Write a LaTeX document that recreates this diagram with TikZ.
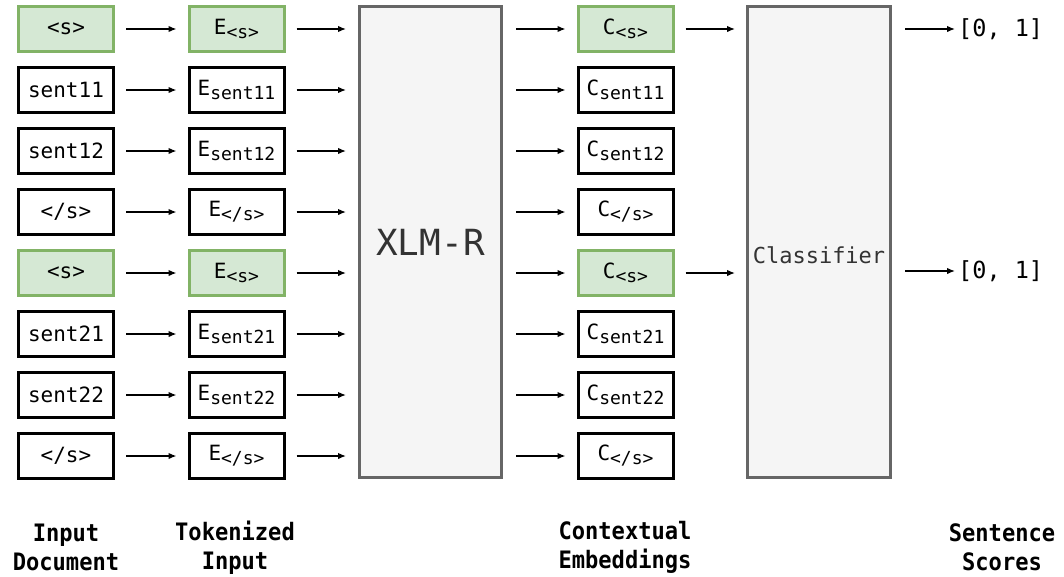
\documentclass[tikz,border=0pt]{standalone}
\usepackage{fontspec}
\setmonofont{DejaVu Sans Mono}
\newfontfamily\capfont{DejaVu Sans Mono Bold}[FakeStretch=0.92]
\usetikzlibrary{arrows.meta}
\definecolor{gfill}{HTML}{D5E8D4}
\definecolor{gline}{HTML}{82B366}
\definecolor{bfill}{HTML}{F5F5F5}
\definecolor{bline}{HTML}{666666}
\definecolor{txtgray}{HTML}{333333}
\newcommand\subtok[1]{\raisebox{-4pt}{\fontsize{18}{18}\selectfont #1}}
\tikzset{
  tok/.style={draw=black, line width=3pt, fill=white, minimum width=95pt, minimum height=45pt, inner sep=0pt, font=\ttfamily\fontsize{21}{21}\selectfont},
  special/.style={tok, draw=gline, fill=gfill},
  bigbox/.style={draw=bline, fill=bfill, line width=3pt, minimum width=142pt, minimum height=471pt, inner sep=0pt, text=txtgray},
  arr/.style={line width=1.4pt, -{Latex[length=8pt,width=6.5pt]}},
  caption/.style={align=center, font=\capfont\fontsize{24}{29}\selectfont},
  score/.style={anchor=west, inner sep=3pt, font=\ttfamily\fontsize{23.5}{23.5}\selectfont}
}
\begin{document}
\begin{tikzpicture}[x=1pt,y=-1pt]
\useasboundingbox (0,0) rectangle (1064,576);
% input tokens
\node[special] (i1) at (66,29) {<s>};
\node[tok] (i2) at (66,90) {sent11};
\node[tok] (i3) at (66,151) {sent12};
\node[tok] (i4) at (66,212) {</s>};
\node[special] (i5) at (66,273) {<s>};
\node[tok] (i6) at (66,334) {sent21};
\node[tok] (i7) at (66,395) {sent22};
\node[tok] (i8) at (66,456) {</s>};
% embeddings
\node[special] (e1) at (236.5,29) {E\subtok{<s>}};
\node[tok] (e2) at (236.5,90) {E\subtok{sent11}};
\node[tok] (e3) at (236.5,151) {E\subtok{sent12}};
\node[tok] (e4) at (236.5,212) {E\subtok{</s>}};
\node[special] (e5) at (236.5,273) {E\subtok{<s>}};
\node[tok] (e6) at (236.5,334) {E\subtok{sent21}};
\node[tok] (e7) at (236.5,395) {E\subtok{sent22}};
\node[tok] (e8) at (236.5,456) {E\subtok{</s>}};
% XLM-R
\node[bigbox, font=\ttfamily\fontsize{36}{36}\selectfont] (xlm) at (430.5,242) {XLM-R};
% contextual
\node[special] (c1) at (625.5,29) {C\subtok{<s>}};
\node[tok] (c2) at (625.5,90) {C\subtok{sent11}};
\node[tok] (c3) at (625.5,151) {C\subtok{sent12}};
\node[tok] (c4) at (625.5,212) {C\subtok{</s>}};
\node[special] (c5) at (625.5,273) {C\subtok{<s>}};
\node[tok] (c6) at (625.5,334) {C\subtok{sent21}};
\node[tok] (c7) at (625.5,395) {C\subtok{sent22}};
\node[tok] (c8) at (625.5,456) {C\subtok{</s>}};
% classifier
\node[bigbox, minimum width=143pt, label={[yshift=-13pt, text=txtgray, font=\ttfamily\fontsize{22}{22}\selectfont]center:Classifier}] (cls) at (819,242) {};
% scores
\node[score] (s1) at (955,29) {[0, 1]};
\node[score] (s2) at (955,271) {[0, 1]};
% arrows
\foreach \k in {1,...,8} {
  \draw[arr, shorten <=11pt, shorten >=11pt] (i\k.east) -- (e\k.west);
  \draw[arr, shorten <=11pt, shorten >=12pt] (e\k.east) -- (e\k.east -| xlm.west);
  \draw[arr, shorten <=13pt, shorten >=11pt] (xlm.east |- c\k.west) -- (c\k.west);
}
\draw[arr, shorten <=11pt, shorten >=11pt] (c1.east) -- (c1.east -| cls.west);
\draw[arr, shorten <=11pt, shorten >=11pt] (c5.east) -- (c5.east -| cls.west);
\draw[arr, shorten <=13pt] (cls.east |- s1.west) -- (s1.west);
\draw[arr, shorten <=13pt] (cls.east |- s2.west) -- (s2.west);
% captions
\node[caption] (l1) at (66,547.5) {Input\\Document};
\node[caption] (l2) at (235,547.5) {Tokenized\\Input};
\node[caption] (l3) at (625,547.5) {Contextual\\Embeddings};
\node[caption] (l4) at (1002,547.5) {Sentence\\Scores};
\end{tikzpicture}
\end{document}
